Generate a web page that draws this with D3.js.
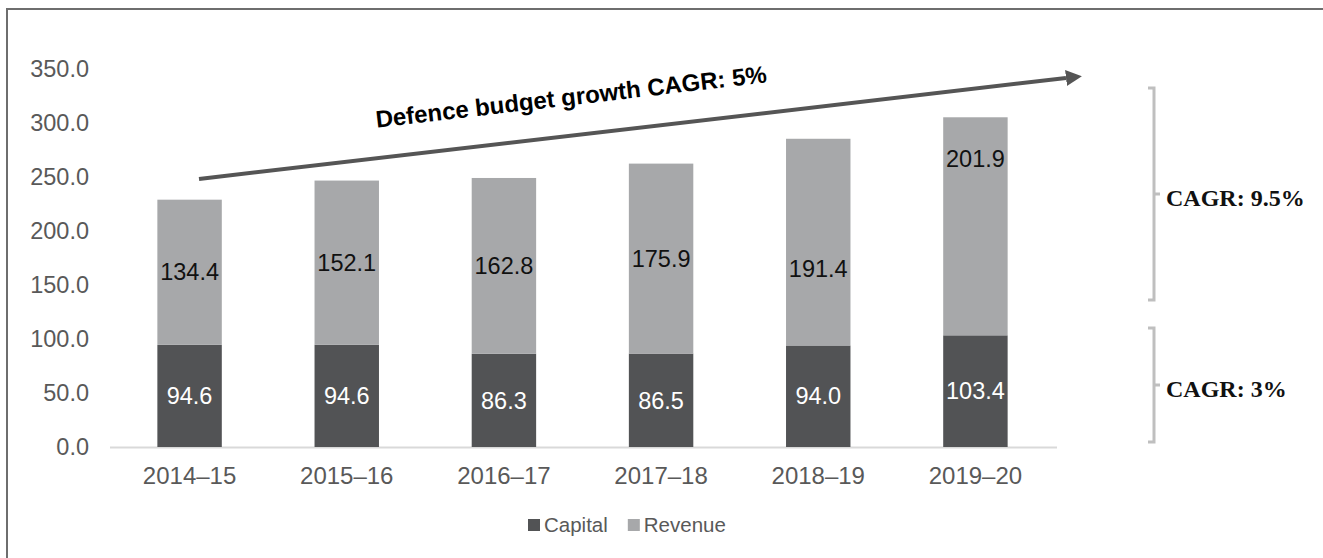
<!DOCTYPE html>
<html>
<head>
<meta charset="utf-8">
<script src="https://cdn.jsdelivr.net/npm/d3@7/dist/d3.min.js"></script>
<style>
  html, body { margin: 0; padding: 0; background: #fff; }
  svg { display: block; }
</style>
</head>
<body>
<svg id="chart" width="1323" height="558"></svg>
<script>
// Defence budget by financial year, split into capital and revenue (values as labelled)
const years = ["2014–15", "2015–16", "2016–17", "2017–18", "2018–19", "2019–20"];
const capital = [94.6, 94.6, 86.3, 86.5, 94.0, 103.4];
const revenue = [134.4, 152.1, 162.8, 175.9, 191.4, 201.9];
const yTicks = [0, 50, 100, 150, 200, 250, 300, 350];
const seriesNames = ["Capital", "Revenue"];

const colors = { Capital: "#525355", Revenue: "#a7a8aa" };
const font = "Arial, 'Liberation Sans', sans-serif";
const serif = "'Times New Roman', 'Liberation Serif', serif";

const svg = d3.select("#chart");

// frame (left and top edges)
svg.append("path")
  .attr("d", "M7,558 V9 H1323")
  .attr("fill", "none")
  .attr("stroke", "#6e6e6e")
  .attr("stroke-width", 2);

const x = d3.scaleBand().domain(years).range([111, 1054])
  .paddingInner(0.59).paddingOuter(0.295);
const y = d3.scaleLinear().domain([0, 350]).range([447, 69]);

// stacked data
const rows = years.map((yr, i) => ({ year: yr, Capital: capital[i], Revenue: revenue[i] }));
const stacked = d3.stack().keys(seriesNames)(rows);

// y axis
const yAxis = svg.append("g")
  .attr("transform", "translate(89,0)")
  .call(d3.axisLeft(y).tickValues(yTicks).tickSize(0).tickPadding(0).tickFormat(d3.format(".1f")));
yAxis.select(".domain").remove();
yAxis.selectAll("text")
  .attr("fill", "#595959")
  .style("font-family", font)
  .style("font-size", "23.5px");

// x axis
const xAxis = svg.append("g")
  .attr("transform", `translate(0,${y(0)})`)
  .call(d3.axisBottom(x).tickSize(0).tickPadding(20));
xAxis.select(".domain").attr("stroke", "#d9d9d9").attr("stroke-width", 2)
  .attr("d", `M110,0.5H1057`);
xAxis.selectAll("text")
  .attr("fill", "#595959")
  .style("font-family", font)
  .style("font-size", "24px");

// bars
const layers = svg.append("g").selectAll("g")
  .data(stacked).join("g")
  .attr("fill", d => colors[d.key]);
layers.selectAll("rect")
  .data(d => d).join("rect")
  .attr("x", d => x(d.data.year))
  .attr("width", x.bandwidth())
  .attr("y", d => y(d[1]))
  .attr("height", d => y(d[0]) - y(d[1]));

// value labels
const revenueLabelShift = [0, 0, 0, 0, 27, -68];
const labels = svg.append("g")
  .style("font-family", font)
  .style("font-size", "23.5px")
  .attr("text-anchor", "middle");
stacked[0].forEach((d, i) => {
  labels.append("text")
    .attr("x", x(d.data.year) + x.bandwidth() / 2)
    .attr("y", y((d[0] + d[1]) / 2))
    .attr("dy", "0.35em")
    .attr("fill", "#ffffff")
    .text(d3.format(".1f")(capital[i]));
});
stacked[1].forEach((d, i) => {
  labels.append("text")
    .attr("x", x(d.data.year) + x.bandwidth() / 2)
    .attr("y", y((d[0] + d[1]) / 2) + revenueLabelShift[i])
    .attr("dy", "0.35em")
    .attr("fill", "#111111")
    .text(d3.format(".1f")(revenue[i]));
});

// growth arrow across the top
const defs = svg.append("defs");
defs.append("marker")
  .attr("id", "head")
  .attr("viewBox", "0 0 10 10")
  .attr("refX", 0).attr("refY", 5)
  .attr("markerWidth", 4).attr("markerHeight", 4)
  .attr("markerUnits", "strokeWidth")
  .attr("orient", "auto")
  .append("path").attr("d", "M0,0 L10,5 L0,10 Z").attr("fill", "#555555");

const a0 = [199, 179], a1 = [1066, 78];
svg.append("line")
  .attr("x1", a0[0]).attr("y1", a0[1])
  .attr("x2", a1[0]).attr("y2", a1[1])
  .attr("stroke", "#555555")
  .attr("stroke-width", 4)
  .attr("marker-end", "url(#head)");

const angle = Math.atan2(a1[1] - a0[1], a1[0] - a0[0]) * 180 / Math.PI;
svg.append("text")
  .attr("transform", `translate(572,105) rotate(${angle})`)
  .attr("text-anchor", "middle")
  .style("font-family", font)
  .style("font-size", "24px")
  .style("font-weight", "bold")
  .attr("fill", "#000")
  .text("Defence budget growth CAGR: 5%");

// right-hand brackets with growth rates
function bracket(top, bottom, label) {
  const bx = 1154, mid = (top + bottom) / 2;
  svg.append("path")
    .attr("d", `M1148,${top} H${bx} V${bottom} H1148 M${bx},${mid} H1160`)
    .attr("fill", "none")
    .attr("stroke", "#bfbfbf")
    .attr("stroke-width", 3);
  svg.append("text")
    .attr("x", 1166).attr("y", mid + 4)
    .attr("dy", "0.35em")
    .style("font-family", serif)
    .style("font-size", "24px")
    .style("font-weight", "bold")
    .attr("fill", "#111")
    .text(label);
}
bracket(88, 300, "CAGR: 9.5%");
bracket(328, 442, "CAGR: 3%");

// legend
const legend = svg.append("g")
  .style("font-family", font)
  .style("font-size", "20.5px");
let lx = 528;
seriesNames.forEach(name => {
  legend.append("rect").attr("x", lx).attr("y", 519).attr("width", 12).attr("height", 12)
    .attr("fill", colors[name]);
  const t = legend.append("text").attr("x", lx + 16).attr("y", 525).attr("dy", "0.35em")
    .attr("fill", "#595959").text(name);
  lx += 16 + t.node().getComputedTextLength() + 20;
});
</script>
</body>
</html>
